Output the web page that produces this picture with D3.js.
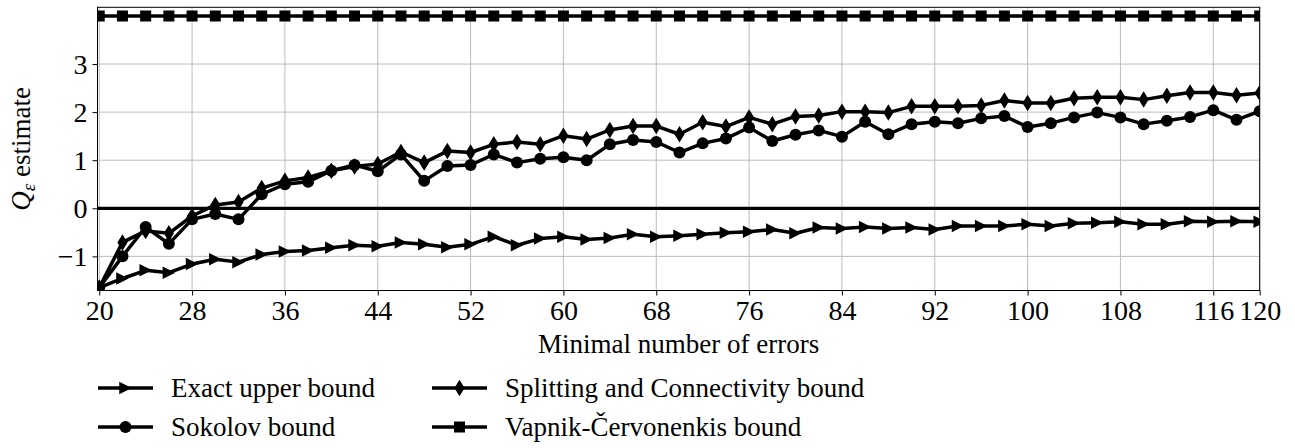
<!DOCTYPE html>
<html>
<head>
<meta charset="utf-8">
<script src="https://cdn.jsdelivr.net/npm/d3@7"></script>
<style>
  body { margin: 0; background: #fff; }
</style>
</head>
<body>
<script>
// minimal number of errors (x values)
const errors = [20, 22, 24, 26, 28, 30, 32, 34, 36, 38, 40, 42, 44, 46, 48, 50, 52, 54, 56, 58,
    60, 62, 64, 66, 68, 70, 72, 74, 76, 78, 80, 82, 84, 86, 88, 90, 92, 94, 96, 98,
    100, 102, 104, 106, 108, 110, 112, 114, 116, 118, 120];

const exactBound = [-1.65, -1.46, -1.29, -1.34, -1.16, -1.06, -1.12, -0.96, -0.90, -0.88,
    -0.82, -0.77, -0.79, -0.71, -0.75, -0.81, -0.75, -0.59, -0.77, -0.63,
    -0.59, -0.65, -0.62, -0.54, -0.59, -0.57, -0.54, -0.51, -0.49, -0.44,
    -0.52, -0.40, -0.42, -0.39, -0.42, -0.40, -0.44, -0.37, -0.37, -0.37,
    -0.33, -0.37, -0.31, -0.30, -0.28, -0.33, -0.33, -0.27, -0.28, -0.27, -0.28];

const sokolovBound = [-1.65, -1.00, -0.39, -0.74, -0.23, -0.12, -0.23, 0.29, 0.50, 0.55,
    0.78, 0.90, 0.77, 1.12, 0.57, 0.88, 0.90, 1.12, 0.95, 1.03,
    1.06, 1.00, 1.33, 1.42, 1.38, 1.16, 1.35, 1.45, 1.68, 1.40,
    1.53, 1.62, 1.49, 1.80, 1.54, 1.75, 1.80, 1.77, 1.87, 1.92,
    1.69, 1.77, 1.89, 1.99, 1.89, 1.75, 1.82, 1.90, 2.04, 1.84, 2.02];

const splittingBound = [-1.65, -0.71, -0.47, -0.52, -0.16, 0.07, 0.13, 0.42, 0.57, 0.64,
    0.78, 0.87, 0.92, 1.17, 0.95, 1.19, 1.16, 1.33, 1.38, 1.33,
    1.51, 1.44, 1.63, 1.71, 1.71, 1.54, 1.79, 1.70, 1.89, 1.75,
    1.91, 1.93, 2.01, 2.01, 1.99, 2.12, 2.12, 2.12, 2.14, 2.24,
    2.19, 2.19, 2.29, 2.31, 2.31, 2.26, 2.34, 2.41, 2.41, 2.35, 2.40];

const vcBound = [4.0, 4.0, 4.0, 4.0, 4.0, 4.0, 4.0, 4.0, 4.0, 4.0,
    4.0, 4.0, 4.0, 4.0, 4.0, 4.0, 4.0, 4.0, 4.0, 4.0,
    4.0, 4.0, 4.0, 4.0, 4.0, 4.0, 4.0, 4.0, 4.0, 4.0,
    4.0, 4.0, 4.0, 4.0, 4.0, 4.0, 4.0, 4.0, 4.0, 4.0,
    4.0, 4.0, 4.0, 4.0, 4.0, 4.0, 4.0, 4.0, 4.0, 4.0, 4.0];

const xTickValues = [20, 28, 36, 44, 52, 60, 68, 76, 84, 92, 100, 108, 116, 120];
const yTickValues = [-1, 0, 1, 2, 3];

const seriesNames = ["Exact upper bound", "Sokolov bound",
    "Splitting and Connectivity bound", "Vapnik-\u010Cervonenkis bound"];

const width = 1295, height = 448;
const margin = { top: 7.3, right: 35.3, bottom: 157.5, left: 97.5 };
const serif = "'Liberation Serif', 'DejaVu Serif', 'Times New Roman', serif";

const svg = d3.select("body")
    .append("svg")
    .attr("width", width)
    .attr("height", height)
    .style("font-family", serif);

const x = d3.scaleLinear().domain([19.85, 120]).range([margin.left, width - margin.right]);
const y = d3.scaleLinear().domain([-1.71, 4.18]).range([height - margin.bottom, margin.top]);

// clip region for plot area
svg.append("defs").append("clipPath")
    .attr("id", "clip")
    .append("rect")
    .attr("x", margin.left)
    .attr("y", margin.top)
    .attr("width", width - margin.left - margin.right)
    .attr("height", height - margin.top - margin.bottom);

// grid
svg.append("g")
    .selectAll("line")
    .data(xTickValues)
    .enter().append("line")
    .attr("x1", d => x(d)).attr("x2", d => x(d))
    .attr("y1", margin.top).attr("y2", height - margin.bottom)
    .attr("stroke", "#bdbdbd").attr("stroke-width", 1);

svg.append("g")
    .selectAll("line")
    .data(yTickValues)
    .enter().append("line")
    .attr("x1", margin.left).attr("x2", width - margin.right)
    .attr("y1", d => y(d)).attr("y2", d => y(d))
    .attr("stroke", "#bdbdbd").attr("stroke-width", 1);

// axes
const xAxis = svg.append("g")
    .attr("transform", `translate(0,${height - margin.bottom})`)
    .call(d3.axisBottom(x).tickValues(xTickValues).tickSize(5).tickPadding(3).tickFormat(d3.format("d")));
xAxis.attr("font-family", null).attr("font-size", null);
xAxis.selectAll("text").style("font-family", serif).style("font-size", "28px").attr("dy", "0.75em");

const yAxis = svg.append("g")
    .attr("transform", `translate(${margin.left},0)`)
    .call(d3.axisLeft(y).tickValues(yTickValues).tickSize(5).tickPadding(5)
        .tickFormat(d => d < 0 ? "\u2212" + Math.abs(d) : d));
yAxis.attr("font-family", null).attr("font-size", null);
yAxis.selectAll("text").style("font-family", serif).style("font-size", "28px");

svg.selectAll(".domain").remove();
svg.selectAll(".tick line").attr("stroke", "#000").attr("stroke-width", 1);

// frame
svg.append("rect")
    .attr("x", margin.left)
    .attr("y", margin.top)
    .attr("width", width - margin.left - margin.right)
    .attr("height", height - margin.top - margin.bottom)
    .attr("fill", "none")
    .attr("stroke", "#000")
    .attr("stroke-width", 1);

// markers
const markerPath = {
    tri: s => `M${s / 2},0L${-s / 2},${-s / 2}L${-s / 2},${s / 2}Z`,
    circle: s => d3.symbol(d3.symbolCircle, Math.PI * s * s / 4)(),
    diamond: s => `M0,${-s * 0.55}L${s * 0.34},0L0,${s * 0.55}L${-s * 0.34},0Z`,
    square: s => `M${-s / 2},${-s / 2}h${s}v${s}h${-s}Z`
};

const series = [
    { name: seriesNames[0], values: exactBound, marker: "tri", size: 12.5 },
    { name: seriesNames[1], values: sokolovBound, marker: "circle", size: 12 },
    { name: seriesNames[2], values: splittingBound, marker: "diamond", size: 15 },
    { name: seriesNames[3], values: vcBound, marker: "square", size: 11 }
];

const plot = svg.append("g").attr("clip-path", "url(#clip)");

// zero line
plot.append("line")
    .attr("x1", margin.left).attr("x2", width - margin.right)
    .attr("y1", y(0)).attr("y2", y(0))
    .attr("stroke", "#000").attr("stroke-width", 3.2);

const line = d3.line()
    .x((d, i) => x(errors[i]))
    .y(d => y(d));

series.forEach(s => {
    plot.append("path")
        .datum(s.values)
        .attr("fill", "none")
        .attr("stroke", "#000")
        .attr("stroke-width", 3.5)
        .attr("stroke-linejoin", "round")
        .attr("d", line);

    plot.append("g")
        .selectAll("path")
        .data(s.values)
        .enter().append("path")
        .attr("transform", (d, i) => `translate(${x(errors[i])},${y(d)})`)
        .attr("d", markerPath[s.marker](s.size))
        .attr("fill", "#000");
});

// axis labels
svg.append("text")
    .attr("x", (margin.left + width - margin.right) / 2)
    .attr("y", 353)
    .attr("text-anchor", "middle")
    .style("font-family", serif)
    .style("font-size", "27px")
    .text("Minimal number of errors");

const yLabel = svg.append("text")
    .attr("transform", `translate(30,${(margin.top + height - margin.bottom) / 2}) rotate(-90)`)
    .attr("text-anchor", "middle")
    .style("font-family", serif)
    .style("font-size", "27px");
yLabel.append("tspan").style("font-style", "italic").text("Q");
yLabel.append("tspan").style("font-style", "italic").style("font-size", "19px")
    .attr("dy", 5).text("\u03B5");
yLabel.append("tspan").attr("dy", -5).text(" estimate");

// legend
const legendPos = [
    { x: 98, y: 388 }, { x: 98, y: 427 },
    { x: 432, y: 388 }, { x: 432, y: 427 }
];

series.forEach((s, i) => {
    const g = svg.append("g").attr("transform", `translate(${legendPos[i].x},${legendPos[i].y})`);
    g.append("line")
        .attr("x1", 0).attr("x2", 55)
        .attr("stroke", "#000").attr("stroke-width", 3.5);
    g.append("path")
        .attr("transform", "translate(27.5,0)")
        .attr("d", markerPath[s.marker](s.size))
        .attr("fill", "#000");
    g.append("text")
        .attr("x", 73)
        .attr("dy", "0.33em")
        .style("font-family", serif)
        .style("font-size", "27px")
        .text(s.name);
});
</script>
</body>
</html>
